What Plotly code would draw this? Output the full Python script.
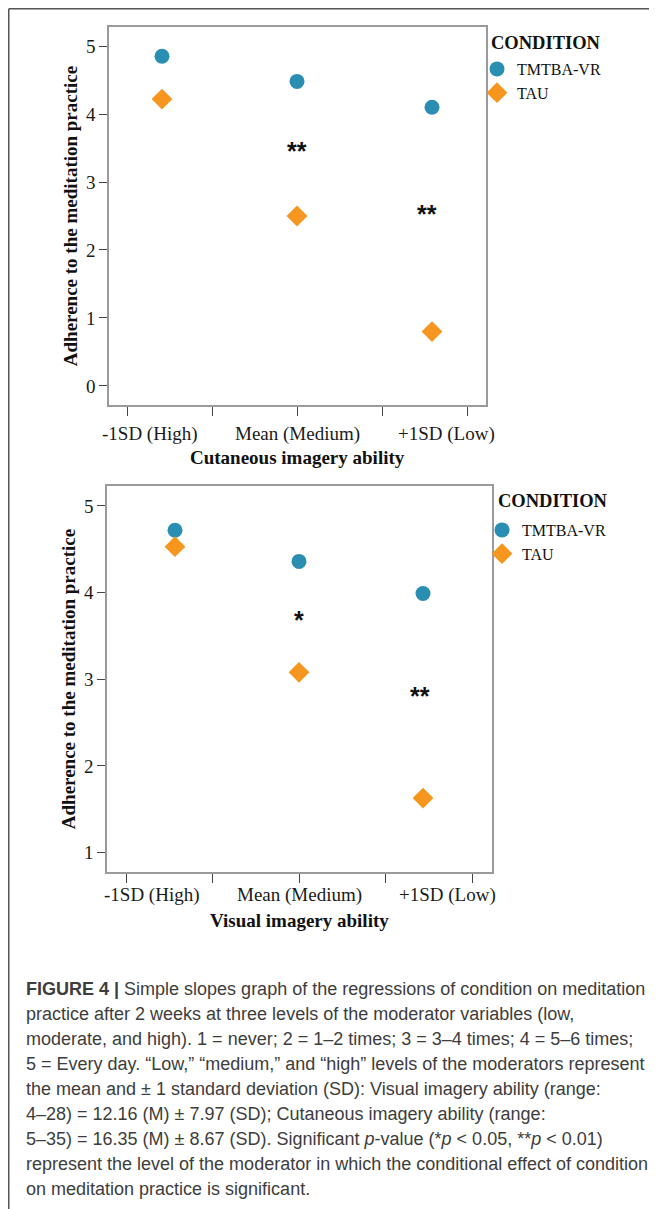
import plotly.graph_objects as go

# page has an 8px body margin, so the figure is drawn 8px in from the window edge
OFF = 8
WIN_W, WIN_H = 657, 1209
W, H = WIN_W - OFF, WIN_H - OFF

# ---------------- data ----------------
levels = [1, 2, 3]
level_labels = ["-1SD (High)", "Mean (Medium)", "+1SD (Low)"]
groups = ["TMTBA-VR", "TAU"]

cut_tmtba = [4.85, 4.48, 4.10]
cut_tau = [4.22, 2.50, 0.80]
vis_tmtba = [4.72, 4.36, 3.99]
vis_tau = [4.53, 3.08, 1.63]

cut_sig = ["", "**", "**"]
cut_sig_y = [None, 3.51, 2.59]
vis_sig = ["", "*", "**"]
vis_sig_y = [None, 3.73, 2.85]

caption_lines = [
    "<b>FIGURE 4 |</b> Simple slopes graph of the regressions of condition on meditation",
    "practice after 2 weeks at three levels of the moderator variables (low,",
    "moderate, and high). 1 = never; 2 = 1–2 times; 3 = 3–4 times; 4 = 5–6 times;",
    "5 = Every day. “Low,” “medium,” and “high” levels of the moderators represent",
    "the mean and ± 1 standard deviation (SD): Visual imagery ability (range:",
    "4–28) = 12.16 (M) ± 7.97 (SD); Cutaneous imagery ability (range:",
    "5–35) = 16.35 (M) ± 8.67 (SD). Significant <i>p</i>-value (*<i>p</i> &lt; 0.05, **<i>p</i> &lt; 0.01)",
    "represent the level of the moderator in which the conditional effect of condition",
    "on meditation practice is significant.",
]

# ---------------- style ----------------
TEAL = "#2a8db2"
ORANGE = "#f7961e"
SERIF = "Liberation Serif"
SANS = "Liberation Sans"
FRAME = "#9a9a9a"
TICKC = "#444444"


def px(xp):
    return (xp - OFF) / W


def py(yp):
    return 1 - (yp - OFF) / H


fig = go.Figure()

panels = [
    dict(xa="x", ya="y", leg="legend", tm=cut_tmtba, ta=cut_tau),
    dict(xa="x2", ya="y2", leg="legend2", tm=vis_tmtba, ta=vis_tau),
]
for p in panels:
    fig.add_trace(go.Scatter(
        x=levels, y=p["tm"], mode="markers", name=groups[0],
        xaxis=p["xa"], yaxis=p["ya"], legend=p["leg"],
        marker=dict(symbol="circle", size=15, color=TEAL, line=dict(width=0)),
        hoverinfo="skip"))
    fig.add_trace(go.Scatter(
        x=levels, y=p["ta"], mode="markers", name=groups[1],
        xaxis=p["xa"], yaxis=p["ya"], legend=p["leg"],
        marker=dict(symbol="diamond", size=16, color=ORANGE, line=dict(width=0)),
        hoverinfo="skip"))

# axis geometry (window pixels)
top_x = dict(left=109, right=486, ctr=297, step=135, tickstep=85)
bot_x = dict(left=107, right=492, ctr=299, step=124, tickstep=86.5)


def xrange_of(g):
    return [2 + (g["left"] - g["ctr"]) / g["step"], 2 + (g["right"] - g["ctr"]) / g["step"]]


def xticks_of(g):
    return [2 + k * g["tickstep"] / g["step"] for k in (-2, -1, 0, 1, 2)]


common_x = dict(showline=True, linecolor=FRAME, linewidth=1.5, mirror=True,
                ticks="outside", ticklen=9, tickwidth=1.3, tickcolor=TICKC,
                showticklabels=False, showgrid=False, zeroline=False, fixedrange=True)
common_y = dict(showline=True, linecolor=FRAME, linewidth=1.5, mirror=True,
                ticks="outside", ticklen=8, tickwidth=1.3, tickcolor=TICKC,
                tickfont=dict(family=SERIF, size=19, color="#1a1a1a"),
                showgrid=False, zeroline=False, fixedrange=True,
                title=dict(text="<b>Adherence to the meditation practice</b>",
                           font=dict(family=SERIF, size=19, color="#111111"), standoff=3))

fig.update_layout(
    xaxis=dict(domain=[px(109), px(486)], range=xrange_of(top_x), anchor="y",
               tickvals=xticks_of(top_x), **common_x),
    yaxis=dict(domain=[py(405), py(27)], range=[-0.28, 5.28], anchor="x",
               tickvals=[0, 1, 2, 3, 4, 5], **common_y),
    xaxis2=dict(domain=[px(107), px(492)], range=xrange_of(bot_x), anchor="y2",
                tickvals=xticks_of(bot_x), **common_x),
    yaxis2=dict(domain=[py(872), py(486)], range=[0.777, 5.23], anchor="x2",
                tickvals=[1, 2, 3, 4, 5], **common_y),
)

annotations = []
# x category labels and axis titles
label_px = {"x": ([150, 297, 446], top_x, 434, 457, "Cutaneous imagery ability"),
            "x2": ([152, 299, 447], bot_x, 895, 920, "Visual imagery ability")}
for xa, (lp, g, ly, ty, title) in label_px.items():
    for lab, p in zip(level_labels, lp):
        annotations.append(dict(
            text=lab, xref=xa, x=2 + (p - g["ctr"]) / g["step"], yref="paper", y=py(ly),
            xanchor="center", yanchor="middle", showarrow=False,
            font=dict(family=SERIF, size=19, color="#1a1a1a")))
    annotations.append(dict(
        text="<b>" + title + "</b>", xref="paper", x=px(g["ctr"]), yref="paper", y=py(ty),
        xanchor="center", yanchor="middle", showarrow=False,
        font=dict(family=SERIF, size=19, color="#111111")))

# legend titles
for lx, ly in ((489, 43), (496, 501)):
    annotations.append(dict(
        text="<b>CONDITION</b>", xref="paper", x=px(lx), yref="paper", y=py(ly),
        xanchor="left", yanchor="middle", showarrow=False,
        font=dict(family=SERIF, size=18.5, color="#111111")))

# significance stars
for xa, ya, sig, sy, xs in (("x", "y", cut_sig, cut_sig_y, [0, 0, -5]),
                            ("x2", "y2", vis_sig, vis_sig_y, [0, 0, -3])):
    for lv, s, yv, sh in zip(levels, sig, sy, xs):
        if s:
            annotations.append(dict(
                text="<b>" + s + "</b>", xref=xa, x=lv, yref=ya, y=yv, xshift=sh, yshift=-4,
                xanchor="center", yanchor="middle", showarrow=False,
                font=dict(family=SANS, size=25, color="#111111")))

# caption
for i, line in enumerate(caption_lines):
    annotations.append(dict(
        text=line, xref="paper", x=px(24), yref="paper", y=py(989 + 25 * i),
        xanchor="left", yanchor="middle", align="left", showarrow=False,
        font=dict(family=SANS, size=18.0, color="#3d3d3d")))

leg_common = dict(xanchor="left", yanchor="top", bgcolor="rgba(0,0,0,0)",
                  font=dict(family=SERIF, size=16, color="#111111"),
                  itemwidth=30, tracegroupgap=0, borderwidth=0)

fig.update_layout(
    width=W, height=H, autosize=False,
    margin=dict(l=0, r=0, t=0, b=0),
    paper_bgcolor="white", plot_bgcolor="white",
    showlegend=True,
    legend=dict(x=px(477), y=py(52), **leg_common),
    legend2=dict(x=px(482), y=py(513), **leg_common),
    annotations=annotations,
    shapes=[
        dict(type="line", xref="paper", yref="paper", x0=0.75 / W, x1=1, y0=1 - 0.75 / H, y1=1 - 0.75 / H,
             line=dict(color="#555555", width=1.5)),
        dict(type="line", xref="paper", yref="paper", x0=0.75 / W, x1=0.75 / W, y0=1 - 0.75 / H, y1=0,
             line=dict(color="#555555", width=1.5)),
    ],
)

fig.write_html("out.html")
